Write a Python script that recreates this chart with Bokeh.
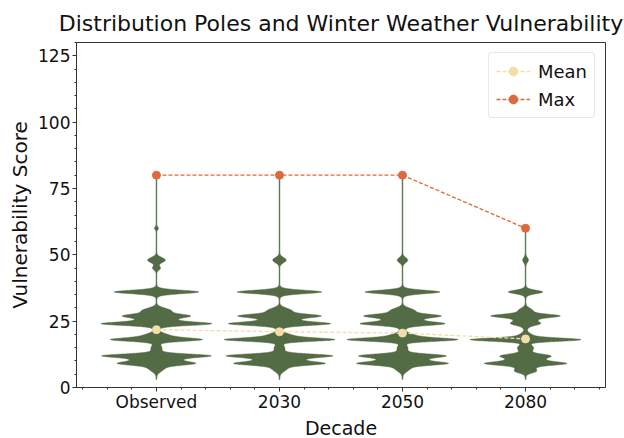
import numpy as np
from bokeh.plotting import figure
from bokeh.models import Range1d, FixedTicker, Legend, LegendItem, ColumnDataSource, Title
from bokeh.embed import file_html
from bokeh.resources import INLINE

# ---- data -------------------------------------------------------------
DECADES = ["Observed", "2030", "2050", "2080"]
MEAN_SCORE = [21.8, 21.0, 20.5, 18.3]
MAX_SCORE = [80, 80, 80, 60]
MIN_SCORE = [3, 3, 3, 3]

# sharp concentrations of scores (narrow kernel)
SPIKE_LEVELS = [6, 9, 12, 18, 24, 27, 36]
OBS_SPIKES = [0, 22, 39, 35, 42, 19, 33]
Y2030_SPIKES = [0, 30, 39, 46, 39, 28, 34]
Y2050_SPIKES = [0, 30, 29, 46, 30, 25, 29]
Y2080_SPIKES = [5, 28, 13, 51, 7, 27, 12]

# broader spread of scores (wide kernel)
BODY_LEVELS = [7, 10.5, 15, 19, 25.5, 29, 36, 45, 48, 60]
BODY_SPREAD = [1.2, 1.6, 1.2, 1.2, 1.8, 1.0, 1.0, 0.8, 1.0, 0.6]
OBS_BODY = [6, 25, 5, 16, 20, 12, 10, 4, 9, 2]
Y2030_BODY = [6, 25, 5, 16, 20, 10, 10, 0, 7, 0]
Y2050_BODY = [6, 25, 5, 16, 20, 10, 10, 0, 5.5, 0]
Y2080_BODY = [8, 20, 8, 9, 12, 6, 6, 0, 3, 0]

SPIKES = [OBS_SPIKES, Y2030_SPIKES, Y2050_SPIKES, Y2080_SPIKES]
BODIES = [OBS_BODY, Y2030_BODY, Y2050_BODY, Y2080_BODY]

SPIKE_SPREAD = 0.6
HALF_WIDTH = 0.45

VIOLIN = "#546c46"
MEAN_C = "#f3deaa"
MAX_C = "#dc6a3c"
FONT = "DejaVu Sans"
INK = "#111111"

positions = list(range(len(DECADES)))

p = figure(width=624, height=438, output_backend="svg", toolbar_location=None,
           x_range=Range1d(-0.65, 3.65), y_range=Range1d(0, 130),
           min_border_left=76, min_border_right=19, min_border_top=42,
           min_border_bottom=46, title="Distribution Poles and Winter Weather Vulnerability")
p.grid.visible = False
p.outline_line_color = "#333333"
p.background_fill_color = "white"

# ---- violins -----------------------------------------------------------
for pos, lo, hi, spikes, body in zip(positions, MIN_SCORE, MAX_SCORE, SPIKES, BODIES):
    y = np.linspace(lo, hi, 2000)
    dens = np.zeros_like(y)
    for c, w in zip(SPIKE_LEVELS, spikes):
        dens += w * np.exp(-0.5 * ((y - c) / SPIKE_SPREAD) ** 2)
    for c, w, s in zip(BODY_LEVELS, body, BODY_SPREAD):
        dens += w * np.exp(-0.5 * ((y - c) / s) ** 2)
    hw = dens / dens.max() * HALF_WIDTH
    xs = np.concatenate([pos - hw, (pos + hw)[::-1]])
    ys = np.concatenate([y, y[::-1]])
    p.patch(xs, ys, fill_color=VIOLIN, line_color=VIOLIN, line_width=0.5)
    p.segment(x0=pos, y0=lo, x1=pos, y1=hi, line_color=VIOLIN, line_width=1.5, line_alpha=0.75)

# ---- mean / max lines ----------------------------------------------------
src = ColumnDataSource(dict(x=positions, mean=MEAN_SCORE, mx=MAX_SCORE))
mean_line = p.line("x", "mean", source=src, line_color=MEAN_C, line_dash="4 2", line_width=1.3)
mean_dot = p.scatter("x", "mean", source=src, size=8, fill_color=MEAN_C, line_color=MEAN_C)
max_line = p.line("x", "mx", source=src, line_color=MAX_C, line_dash="4 2", line_width=1.3)
max_dot = p.scatter("x", "mx", source=src, size=8, fill_color=MAX_C, line_color=MAX_C)

legend = Legend(items=[LegendItem(label="Mean", renderers=[mean_line, mean_dot]),
                       LegendItem(label="Max", renderers=[max_line, max_dot])],
                location="top_right", label_text_font=FONT, label_text_font_size="18px",
                label_text_color=INK,
                glyph_width=34, glyph_height=22, label_standoff=8, spacing=6, padding=7,
                margin=10, border_line_color="#d0d0d0", border_line_width=1,
                border_radius=4, background_fill_alpha=0.8)
p.add_layout(legend)

# ---- axes --------------------------------------------------------------
p.xaxis.ticker = FixedTicker(ticks=positions,
                             minor_ticks=[round(v, 1) for v in np.arange(-0.6, 3.61, 0.2)])
p.xaxis.major_label_overrides = {i: d for i, d in enumerate(DECADES)}
p.yaxis.ticker = FixedTicker(ticks=[0, 25, 50, 75, 100, 125], minor_ticks=list(range(0, 131, 5)))
p.yaxis.axis_label = "Vulnerability Score"
for ax in (p.xaxis[0], p.yaxis[0]):
    ax.axis_line_color = "#333333"
    ax.major_tick_line_color = "#333333"
    ax.minor_tick_line_color = "#333333"
    ax.major_tick_out = 4
    ax.major_tick_in = 0
    ax.minor_tick_out = 2
    ax.minor_tick_in = 0
    ax.major_label_text_font = FONT
    ax.major_label_text_font_size = "17px"
    ax.major_label_text_color = INK
    ax.axis_label_text_font = FONT
    ax.axis_label_text_font_size = "20px"
    ax.axis_label_text_font_style = "normal"
    ax.axis_label_text_color = INK
p.xaxis.axis_label = None
p.xaxis.axis_label_standoff = 0
p.xaxis.major_label_standoff = 0
p.yaxis.major_label_standoff = 2
p.yaxis.axis_label_standoff = 3

# x-axis title as a compact panel below the axis
p.add_layout(Title(text="Decade", align="center", text_font=FONT, text_font_size="19px",
                   text_font_style="normal", text_color=INK, standoff=0, offset=0), "below")

p.title.text_font = FONT
p.title.text_font_size = "22px"
p.title.text_font_style = "normal"
p.title.text_color = INK
p.title.align = "center"
p.title.standoff = 14

open("out.html", "w").write(file_html(p, INLINE))
